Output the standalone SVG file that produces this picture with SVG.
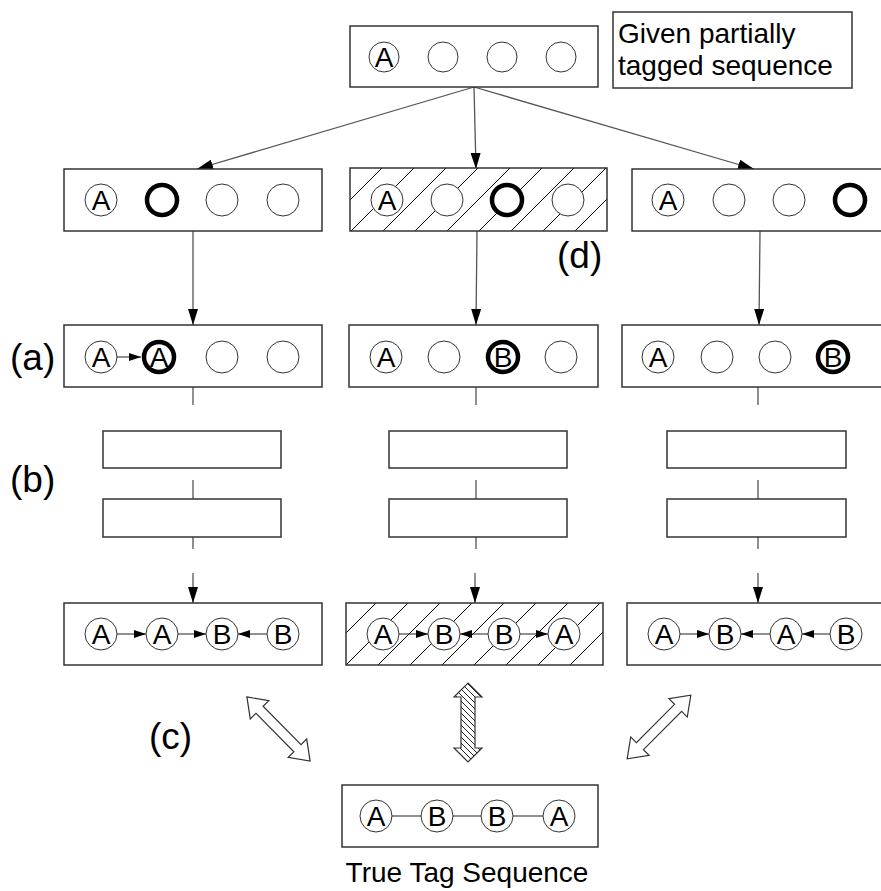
<svg xmlns="http://www.w3.org/2000/svg" width="881" height="891" viewBox="0 0 881 891">
  <style>
    .box { fill: #fff; stroke: #333; stroke-width: 1.5; }
    .hatched { fill: url(#hatchA); stroke: #333; stroke-width: 1.5; }
    .hatched2 { fill: url(#hatchB); stroke: #333; stroke-width: 1.5; }
    .tag { fill: #fff; stroke: #333; stroke-width: 1; }
    .bold { fill: #fff; stroke: #000; stroke-width: 4.5; }
    .lt { font-family: "Liberation Sans", Arial, sans-serif; font-size: 28px; text-anchor: middle; fill: #000; }
    .txt { font-family: "Liberation Sans", Arial, sans-serif; font-size: 28px; fill: #000; }
    .mark { font-family: "Liberation Sans", Arial, sans-serif; font-size: 37px; fill: #000; }
    .conn { stroke: #555; stroke-width: 1.3; fill: none; }
    .link { stroke: #222; stroke-width: 1; fill: none; }
    .dbl { fill: #fff; stroke: #333; stroke-width: 1.2; }
  </style>
  <defs>
    <pattern id="hatchA" patternUnits="userSpaceOnUse" width="32" height="32" patternTransform="translate(6,0)">
      <rect width="32" height="32" fill="#fff"/>
      <path d="M0,32 L32,0 M-4,4 L4,-4 M28,36 L36,28" stroke="#000" stroke-width="1"/>
    </pattern>
    <pattern id="hatchB" patternUnits="userSpaceOnUse" width="32" height="32" patternTransform="translate(19,0)">
      <rect width="32" height="32" fill="#fff"/>
      <path d="M0,32 L32,0 M-4,4 L4,-4 M28,36 L36,28" stroke="#000" stroke-width="1"/>
    </pattern>
    <pattern id="hatchV" patternUnits="userSpaceOnUse" width="6" height="6">
      <rect width="6" height="6" fill="#fff"/>
      <path d="M0,0 L6,6 M-1,5 L1,7 M5,-1 L7,1" stroke="#222" stroke-width="1"/>
    </pattern>
    <marker id="ah" viewBox="0 0 16 10" refX="16" refY="5" markerWidth="16" markerHeight="10" markerUnits="userSpaceOnUse" orient="auto">
      <path d="M0,0 L16,5 L0,10 z" fill="#000"/>
    </marker>
    <marker id="sm" viewBox="0 0 12 8" refX="12" refY="4" markerWidth="12" markerHeight="8" markerUnits="userSpaceOnUse" orient="auto">
      <path d="M0,0 L12,4 L0,8 z" fill="#000"/>
    </marker>
    <polygon id="dblH" points="-45,0 -27,-13 -27,-5 27,-5 27,-13 45,0 27,13 27,5 -27,5 -27,13"/>
  </defs>

  <rect width="881" height="891" fill="#fff"/>

  <!-- connectors -->
  <g id="connectors">
    <line class="conn" x1="474" y1="87" x2="197" y2="169" marker-end="url(#ah)"/>
    <line class="conn" x1="474" y1="87" x2="476" y2="169" marker-end="url(#ah)"/>
    <line class="conn" x1="474" y1="87" x2="754" y2="169" marker-end="url(#ah)"/>

    <line class="conn" x1="193" y1="231" x2="193" y2="325" marker-end="url(#ah)"/>
    <line class="conn" x1="477" y1="231" x2="476" y2="325" marker-end="url(#ah)"/>
    <line class="conn" x1="760" y1="231" x2="759" y2="325" marker-end="url(#ah)"/>

    <path class="conn" d="M193,387 V405 M193,480 V499 M193,537 V549"/>
    <line class="conn" x1="193" y1="573" x2="193" y2="603" marker-end="url(#ah)"/>
    <path class="conn" d="M476,387 V405 M476,480 V499 M476,537 V549"/>
    <line class="conn" x1="475" y1="573" x2="475" y2="603" marker-end="url(#ah)"/>
    <path class="conn" d="M758,387 V405 M758,480 V499 M758,537 V549"/>
    <line class="conn" x1="758" y1="573" x2="758" y2="603" marker-end="url(#ah)"/>

    <use href="#dblH" class="dbl" transform="translate(278.5,729) rotate(45.4)"/>
    <polygon points="468,683 482,697 475,697 475,748 482,748 468,762 454,748 461,748 461,697 454,697" fill="url(#hatchV)" stroke="#333" stroke-width="1.2"/>
    <use href="#dblH" class="dbl" transform="translate(659,727) rotate(135)"/>
  </g>

  <!-- given sequence -->
  <g id="given">
    <rect class="box" x="350" y="26" width="248" height="61"/>
    <circle class="tag" cx="384" cy="57" r="15"/><text class="lt" x="384" y="67">A</text>
    <circle class="tag" cx="443" cy="57" r="15"/>
    <circle class="tag" cx="502" cy="57" r="15"/>
    <circle class="tag" cx="561" cy="57" r="15"/>
  </g>
  <g id="given-note">
    <rect class="box" x="613" y="12" width="239" height="76"/>
    <text class="txt" x="618" y="43">Given partially</text>
    <text class="txt" x="618" y="75">tagged sequence</text>
  </g>

  <!-- candidate positions -->
  <g id="pick-left">
    <rect class="box" x="64" y="169" width="258" height="62"/>
    <circle class="tag" cx="101" cy="200" r="16"/><text class="lt" x="101" y="210">A</text>
    <circle class="bold" cx="162" cy="200" r="15"/>
    <circle class="tag" cx="222" cy="200" r="16"/>
    <circle class="tag" cx="283" cy="200" r="16"/>
  </g>
  <g id="pick-mid">
    <rect class="hatched" x="350" y="168" width="257" height="63"/>
    <circle class="tag" cx="387" cy="200" r="16"/><text class="lt" x="387" y="210">A</text>
    <circle class="tag" cx="447" cy="200" r="16"/>
    <circle class="bold" cx="507" cy="200" r="15"/>
    <circle class="tag" cx="568" cy="200" r="16"/>
  </g>
  <g id="pick-right">
    <rect class="box" x="632" y="169" width="260" height="62"/>
    <circle class="tag" cx="668" cy="200" r="16"/><text class="lt" x="668" y="210">A</text>
    <circle class="tag" cx="729" cy="200" r="16"/>
    <circle class="tag" cx="789" cy="200" r="16"/>
    <circle class="bold" cx="850" cy="200" r="15"/>
  </g>
  <text class="mark" x="557" y="268">(d)</text>

  <!-- predicted tag -->
  <g id="tag-left">
    <rect class="box" x="64" y="325" width="258" height="62"/>
    <circle class="tag" cx="101" cy="357" r="16"/><text class="lt" x="101" y="367">A</text>
    <line class="link" x1="117" y1="357" x2="141" y2="357" marker-end="url(#sm)"/>
    <circle class="bold" cx="159" cy="357" r="15"/><text class="lt" x="159" y="367">A</text>
    <circle class="tag" cx="222" cy="357" r="16"/>
    <circle class="tag" cx="283" cy="357" r="16"/>
  </g>
  <g id="tag-mid">
    <rect class="box" x="349" y="325" width="249" height="62"/>
    <circle class="tag" cx="386" cy="357" r="16"/><text class="lt" x="386" y="367">A</text>
    <circle class="tag" cx="444" cy="357" r="16"/>
    <circle class="bold" cx="503" cy="357" r="15"/><text class="lt" x="503" y="367">B</text>
    <circle class="tag" cx="561" cy="357" r="16"/>
  </g>
  <g id="tag-right">
    <rect class="box" x="622" y="325" width="270" height="62"/>
    <circle class="tag" cx="658" cy="357" r="16"/><text class="lt" x="658" y="367">A</text>
    <circle class="tag" cx="717" cy="357" r="16"/>
    <circle class="tag" cx="775" cy="357" r="16"/>
    <circle class="bold" cx="833" cy="357" r="15"/><text class="lt" x="833" y="367">B</text>
  </g>
  <text class="mark" x="10" y="370">(a)</text>

  <!-- inference stages -->
  <g id="stage-left">
    <rect class="box" x="103" y="431" width="178" height="37"/>
    <rect class="box" x="103" y="499" width="178" height="38"/>
  </g>
  <g id="stage-mid">
    <rect class="box" x="389" y="431" width="178" height="37"/>
    <rect class="box" x="389" y="499" width="178" height="38"/>
  </g>
  <g id="stage-right">
    <rect class="box" x="667" y="431" width="179" height="37"/>
    <rect class="box" x="667" y="499" width="179" height="38"/>
  </g>
  <text class="mark" x="10" y="492">(b)</text>

  <!-- full sequences -->
  <g id="seq-left">
    <rect class="box" x="64" y="603" width="258" height="62"/>
    <line class="link" x1="117" y1="634" x2="146" y2="634" marker-end="url(#sm)"/>
    <line class="link" x1="178" y1="634" x2="206" y2="634" marker-end="url(#sm)"/>
    <line class="link" x1="267" y1="634" x2="238" y2="634" marker-end="url(#sm)"/>
    <circle class="tag" cx="101" cy="634" r="16"/><text class="lt" x="101" y="644">A</text>
    <circle class="tag" cx="162" cy="634" r="16"/><text class="lt" x="162" y="644">A</text>
    <circle class="tag" cx="222" cy="634" r="16"/><text class="lt" x="222" y="644">B</text>
    <circle class="tag" cx="283" cy="634" r="16"/><text class="lt" x="283" y="644">B</text>
  </g>
  <g id="seq-mid">
    <rect class="hatched2" x="346" y="603" width="257" height="62"/>
    <line class="link" x1="399" y1="634" x2="428" y2="634" marker-end="url(#sm)"/>
    <line class="link" x1="488" y1="634" x2="460" y2="634" marker-end="url(#sm)"/>
    <line class="link" x1="520" y1="634" x2="548" y2="634" marker-end="url(#sm)"/>
    <circle class="tag" cx="383" cy="634" r="16"/><text class="lt" x="383" y="644">A</text>
    <circle class="tag" cx="444" cy="634" r="16"/><text class="lt" x="444" y="644">B</text>
    <circle class="tag" cx="504" cy="634" r="16"/><text class="lt" x="504" y="644">B</text>
    <circle class="tag" cx="564" cy="634" r="16"/><text class="lt" x="564" y="644">A</text>
  </g>
  <g id="seq-right">
    <rect class="box" x="627" y="603" width="265" height="62"/>
    <line class="link" x1="680" y1="634" x2="709" y2="634" marker-end="url(#sm)"/>
    <line class="link" x1="770" y1="634" x2="741" y2="634" marker-end="url(#sm)"/>
    <line class="link" x1="830" y1="634" x2="802" y2="634" marker-end="url(#sm)"/>
    <circle class="tag" cx="664" cy="634" r="16"/><text class="lt" x="664" y="644">A</text>
    <circle class="tag" cx="725" cy="634" r="16"/><text class="lt" x="725" y="644">B</text>
    <circle class="tag" cx="786" cy="634" r="16"/><text class="lt" x="786" y="644">A</text>
    <circle class="tag" cx="846" cy="634" r="16"/><text class="lt" x="846" y="644">B</text>
  </g>
  <text class="mark" x="149" y="749">(c)</text>

  <!-- reference sequence -->
  <g id="truth">
    <rect class="box" x="342" y="785" width="256" height="62"/>
    <path class="link" d="M392,816 H421 M453,816 H481 M513,816 H543"/>
    <circle class="tag" cx="376" cy="816" r="16"/><text class="lt" x="376" y="826">A</text>
    <circle class="tag" cx="437" cy="816" r="16"/><text class="lt" x="437" y="826">B</text>
    <circle class="tag" cx="497" cy="816" r="16"/><text class="lt" x="497" y="826">B</text>
    <circle class="tag" cx="559" cy="816" r="16"/><text class="lt" x="559" y="826">A</text>
    <text class="txt" x="467" y="882" text-anchor="middle">True Tag Sequence</text>
  </g>
</svg>
